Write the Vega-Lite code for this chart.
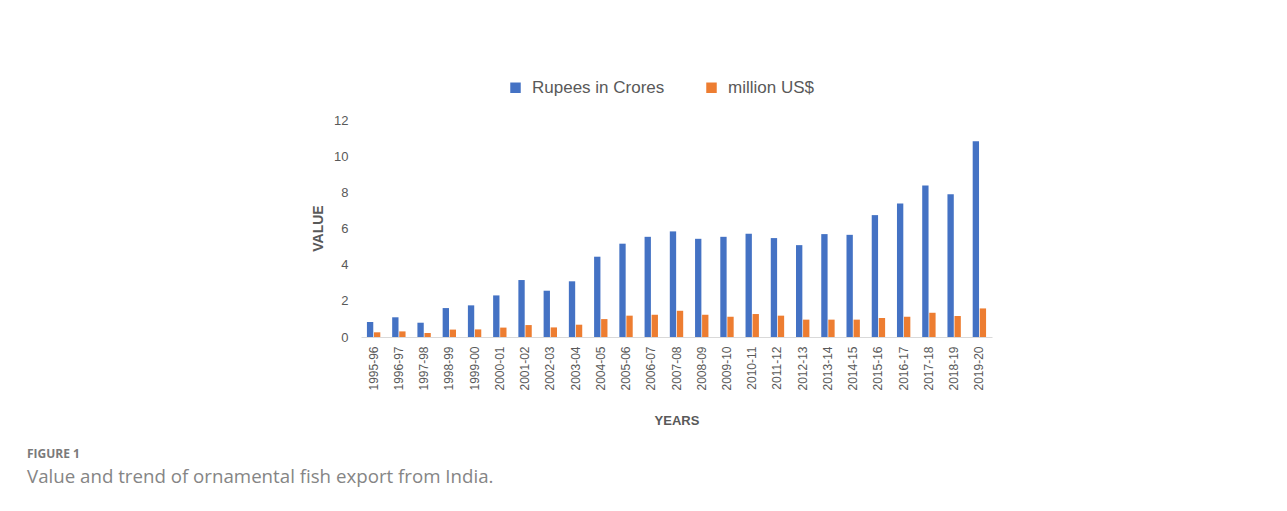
{
  "$schema": "https://vega.github.io/schema/vega-lite/v6.json",
  "width": 631,
  "height": 217,
  "autosize": {"type": "none"},
  "padding": {"left": 361, "top": 120, "right": 295, "bottom": 174},
  "background": "white",
  "title": {
    "text": "FIGURE 1",
    "subtitle": "Value and trend of ornamental fish export from India.",
    "orient": "bottom",
    "anchor": "start",
    "frame": "group",
    "dx": -334,
    "offset": 22,
    "font": "Open Sans",
    "fontSize": 12,
    "fontWeight": "bold",
    "color": "#7a7a7a",
    "subtitleFont": "Open Sans",
    "subtitleFontSize": 18.7,
    "subtitleFontWeight": "normal",
    "subtitleColor": "#858585",
    "subtitlePadding": 7
  },
  "data": {
    "values": [
      {"year": "1995-96", "series": "Rupees in Crores", "value": 0.83},
      {"year": "1996-97", "series": "Rupees in Crores", "value": 1.09},
      {"year": "1997-98", "series": "Rupees in Crores", "value": 0.79},
      {"year": "1998-99", "series": "Rupees in Crores", "value": 1.60},
      {"year": "1999-00", "series": "Rupees in Crores", "value": 1.75},
      {"year": "2000-01", "series": "Rupees in Crores", "value": 2.30},
      {"year": "2001-02", "series": "Rupees in Crores", "value": 3.15},
      {"year": "2002-03", "series": "Rupees in Crores", "value": 2.56},
      {"year": "2003-04", "series": "Rupees in Crores", "value": 3.08},
      {"year": "2004-05", "series": "Rupees in Crores", "value": 4.44},
      {"year": "2005-06", "series": "Rupees in Crores", "value": 5.16},
      {"year": "2006-07", "series": "Rupees in Crores", "value": 5.54},
      {"year": "2007-08", "series": "Rupees in Crores", "value": 5.84},
      {"year": "2008-09", "series": "Rupees in Crores", "value": 5.43},
      {"year": "2009-10", "series": "Rupees in Crores", "value": 5.54},
      {"year": "2010-11", "series": "Rupees in Crores", "value": 5.71},
      {"year": "2011-12", "series": "Rupees in Crores", "value": 5.47},
      {"year": "2012-13", "series": "Rupees in Crores", "value": 5.08},
      {"year": "2013-14", "series": "Rupees in Crores", "value": 5.69},
      {"year": "2014-15", "series": "Rupees in Crores", "value": 5.65},
      {"year": "2015-16", "series": "Rupees in Crores", "value": 6.74},
      {"year": "2016-17", "series": "Rupees in Crores", "value": 7.38},
      {"year": "2017-18", "series": "Rupees in Crores", "value": 8.38},
      {"year": "2018-19", "series": "Rupees in Crores", "value": 7.90},
      {"year": "2019-20", "series": "Rupees in Crores", "value": 10.83},
      {"year": "1995-96", "series": "million US$", "value": 0.26},
      {"year": "1996-97", "series": "million US$", "value": 0.31},
      {"year": "1997-98", "series": "million US$", "value": 0.22},
      {"year": "1998-99", "series": "million US$", "value": 0.41},
      {"year": "1999-00", "series": "million US$", "value": 0.42},
      {"year": "2000-01", "series": "million US$", "value": 0.52},
      {"year": "2001-02", "series": "million US$", "value": 0.66},
      {"year": "2002-03", "series": "million US$", "value": 0.53},
      {"year": "2003-04", "series": "million US$", "value": 0.68},
      {"year": "2004-05", "series": "million US$", "value": 0.99},
      {"year": "2005-06", "series": "million US$", "value": 1.18},
      {"year": "2006-07", "series": "million US$", "value": 1.23},
      {"year": "2007-08", "series": "million US$", "value": 1.45},
      {"year": "2008-09", "series": "million US$", "value": 1.23},
      {"year": "2009-10", "series": "million US$", "value": 1.12},
      {"year": "2010-11", "series": "million US$", "value": 1.27},
      {"year": "2011-12", "series": "million US$", "value": 1.18},
      {"year": "2012-13", "series": "million US$", "value": 0.96},
      {"year": "2013-14", "series": "million US$", "value": 0.96},
      {"year": "2014-15", "series": "million US$", "value": 0.96},
      {"year": "2015-16", "series": "million US$", "value": 1.05},
      {"year": "2016-17", "series": "million US$", "value": 1.12},
      {"year": "2017-18", "series": "million US$", "value": 1.34},
      {"year": "2018-19", "series": "million US$", "value": 1.16},
      {"year": "2019-20", "series": "million US$", "value": 1.58}
    ]
  },
  "mark": {"type": "bar"},
  "encoding": {
    "x": {
      "field": "year",
      "type": "nominal",
      "sort": null,
      "scale": {"paddingInner": 0.47, "paddingOuter": 0.235},
      "axis": {
        "title": "YEARS",
        "labelAngle": -90,
        "labelFont": "Liberation Sans",
        "labelFontSize": 12,
        "labelColor": "#595959",
        "labelPadding": 9,
        "ticks": false,
        "domainColor": "#d9d9d9",
        "titleFont": "Liberation Sans",
        "titleFontSize": 13,
        "titleFontWeight": "bold",
        "titleColor": "#595959",
        "titleY": 83,
        "titleBaseline": "middle"
      }
    },
    "xOffset": {
      "field": "series",
      "type": "nominal",
      "sort": ["Rupees in Crores", "million US$"],
      "scale": {"paddingInner": 0.1}
    },
    "y": {
      "field": "value",
      "type": "quantitative",
      "scale": {"domain": [0, 12]},
      "axis": {
        "title": "VALUE",
        "values": [0, 2, 4, 6, 8, 10, 12],
        "grid": false,
        "domain": false,
        "ticks": false,
        "labelFont": "Liberation Sans",
        "labelFontSize": 13,
        "labelColor": "#595959",
        "labelPadding": 13,
        "titleFont": "Liberation Sans",
        "titleFontSize": 14,
        "titleFontWeight": "bold",
        "titleColor": "#595959",
        "titleX": -43,
        "titleY": 108,
        "titleBaseline": "middle",
        "titleAngle": -90
      }
    },
    "color": {
      "field": "series",
      "type": "nominal",
      "sort": ["Rupees in Crores", "million US$"],
      "scale": {"domain": ["Rupees in Crores", "million US$"], "range": ["#4472C4", "#ED7D31"]},
      "legend": {
        "title": null,
        "orient": "none",
        "direction": "horizontal",
        "legendX": 146,
        "legendY": -41,
        "symbolType": "square",
        "symbolSize": 110,
        "symbolStrokeWidth": 0,
        "labelFont": "Liberation Sans",
        "labelFontSize": 17,
        "labelColor": "#595959",
        "labelOffset": 8,
        "columnPadding": 38
      }
    }
  },
  "config": {"view": {"stroke": null}}
}
